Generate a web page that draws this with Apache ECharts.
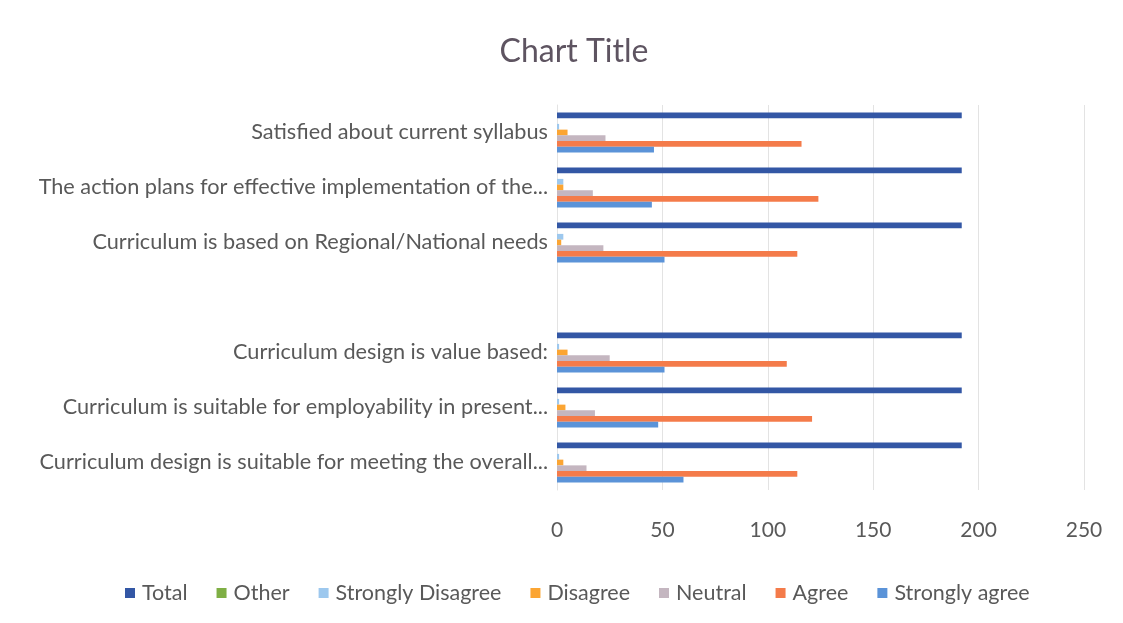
<!DOCTYPE html>
<html>
<head>
<meta charset="utf-8">
<script src="https://cdn.jsdelivr.net/npm/echarts@6/dist/echarts.min.js"></script>
<style>
html,body{margin:0;padding:0;background:#fff;}
#chart{width:1123px;height:623px;}
</style>
</head>
<body>
<div id="chart"></div>
<script>
// Categories listed bottom to top (category axis starts at bottom)
const categories = [
  "Curriculum design is suitable for meeting the overall...",
  "Curriculum is suitable for employability in present...",
  "Curriculum design is value based:",
  "",
  "Curriculum is based on Regional/National needs",
  "The action plans for effective implementation of the...",
  "Satisfied about current syllabus"
];
const total            = [192, 192, 192, null, 192, 192, 192];
const other            = [0, 0, 0, null, 0, 0, 0];
const stronglyDisagree = [1, 1, 1, null, 3, 3, 1];
const disagree         = [3, 4, 5, null, 2, 3, 5];
const neutral          = [14, 18, 25, null, 22, 17, 23];
const agree            = [114, 121, 109, null, 114, 124, 116];
const stronglyAgree    = [60, 48, 51, null, 51, 45, 46];
const xTicks = [0, 50, 100, 150, 200, 250];

const FONT = "Lato, 'Open Sans', sans-serif";
const TXT = "#595959";

const seriesDefs = [
  {name: "Total", data: total, color: "#3357A5"},
  {name: "Other", data: other, color: "#7FAF45"},
  {name: "Strongly Disagree", data: stronglyDisagree, color: "#9DC8EE"},
  {name: "Disagree", data: disagree, color: "#FBA533"},
  {name: "Neutral", data: neutral, color: "#C4B6C0"},
  {name: "Agree", data: agree, color: "#F47B4A"},
  {name: "Strongly agree", data: stronglyAgree, color: "#5B93D8"}
];

const chart = echarts.init(document.getElementById('chart'), null, {renderer: 'canvas'});
chart.setOption({
  backgroundColor: '#ffffff',
  animation: false,
  title: {
    text: 'Chart Title',
    left: 569, top: 31, textAlign: 'center',
    textStyle: {fontFamily: FONT, fontSize: 32, fontWeight: 'normal', color: '#5E5461'}
  },
  legend: {
    data: seriesDefs.map(s => s.name),
    top: 577, left: 120,
    itemWidth: 10, itemHeight: 10, itemGap: 29,
    icon: 'rect',
    textStyle: {fontFamily: FONT, fontSize: 21.5, color: TXT, padding: [0, 0, 0, 2]}
  },
  grid: {left: 557, right: 39, top: 105, bottom: 133, containLabel: false},
  xAxis: {
    type: 'value', min: xTicks[0], max: xTicks[xTicks.length - 1], interval: 50,
    axisLine: {show: false}, axisTick: {show: false},
    axisLabel: {fontFamily: FONT, fontSize: 21, color: TXT, margin: 30},
    splitLine: {show: true, lineStyle: {color: '#E3E3E3', width: 1}}
  },
  yAxis: {
    type: 'category', data: categories,
    axisLine: {show: true, lineStyle: {color: '#E3E3E3'}},
    axisTick: {show: false},
    axisLabel: {fontFamily: FONT, fontSize: 21.7, color: TXT, margin: 9}
  },
  series: seriesDefs.map(s => ({
    name: s.name, type: 'bar', data: s.data,
    barGap: '0%', barCategoryGap: '27%',
    itemStyle: {color: s.color},
    emphasis: {disabled: true}
  }))
});
</script>
</body>
</html>
